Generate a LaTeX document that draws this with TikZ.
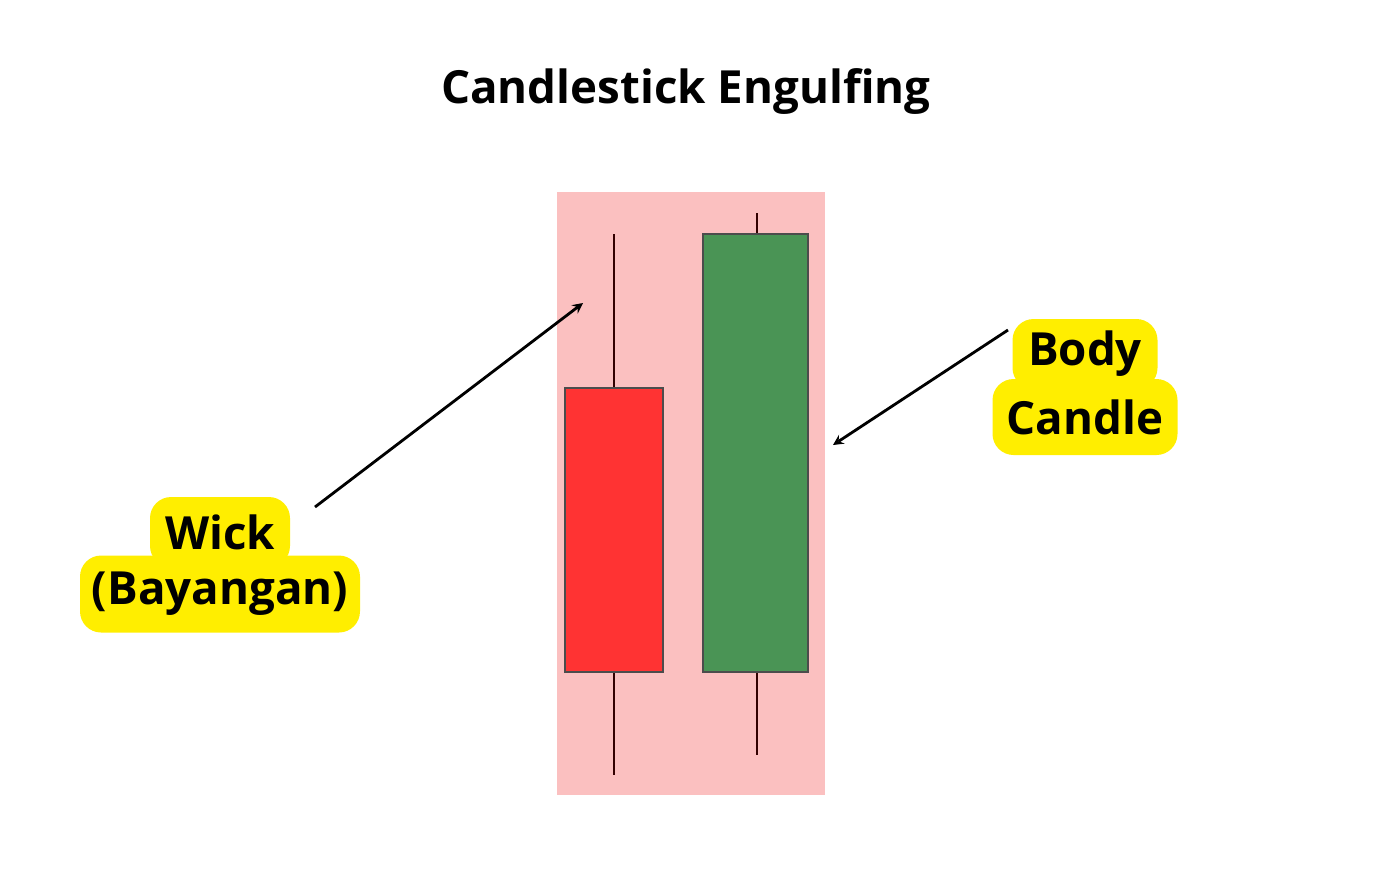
\documentclass[tikz,border=0pt]{standalone}
\usepackage{fontspec}
\setmainfont{Open Sans}
\begin{document}
\begin{tikzpicture}
    [x=0.02cm,y=-0.02cm,
    tag/.style={fill=hilite,rounded corners=12,font=\fontsize{26}{28}\selectfont\bfseries,inner sep=0pt},
    body/.style={draw=black!70,line width=0.6pt},
    wick/.style={draw=black!80!red,line width=1.2pt}]
    \definecolor{hilite}{HTML}{FFEE00}
    \definecolor{pinkbg}{HTML}{FBC0C0}
    \definecolor{bear}{HTML}{FF3333}
    \definecolor{bull}{HTML}{4A9455}

    \useasboundingbox (0,0) rectangle (1382,894);
    \node[font=\fontsize{26}{28}\selectfont\bfseries] (title) at (686,92) {Candlestick Engulfing};

    \fill[pinkbg] (557,192) rectangle (825,795);
    %\draw[help lines] (0,0) grid (1382,894);
    \draw[wick] (614,234) -- (614,775);
    \draw[wick] (757,213) -- (757,755);
    \draw[body,fill=bear] (565,388) rectangle (663,672);
    \draw[body,fill=bull] (703,234) rectangle (808,672);

    \node[tag,minimum width=280*0.02cm,minimum height=77*0.02cm] (bay) at (220,594) {(Bayangan)};
    \node[tag,minimum width=140*0.02cm,minimum height=70*0.02cm] (wk) at (220,532) {Wick};
    \node[tag,minimum width=185*0.02cm,minimum height=76*0.02cm] (cd) at (1085,417) {Candle};
    \node[tag,minimum width=145*0.02cm,minimum height=70*0.02cm] (bd) at (1085,354) {Body};

    \coordinate (wkfrom) at (315,507);
    \coordinate (wkto) at (583,303);
    \coordinate (bdfrom) at (1008,330);
    \coordinate (bdto) at (833,445);
    \draw[->,>=stealth,line width=1.6pt] (wkfrom) -- (wkto);
    \draw[->,>=stealth,line width=1.6pt] (bdfrom) -- (bdto);
\end{tikzpicture}
\end{document}
